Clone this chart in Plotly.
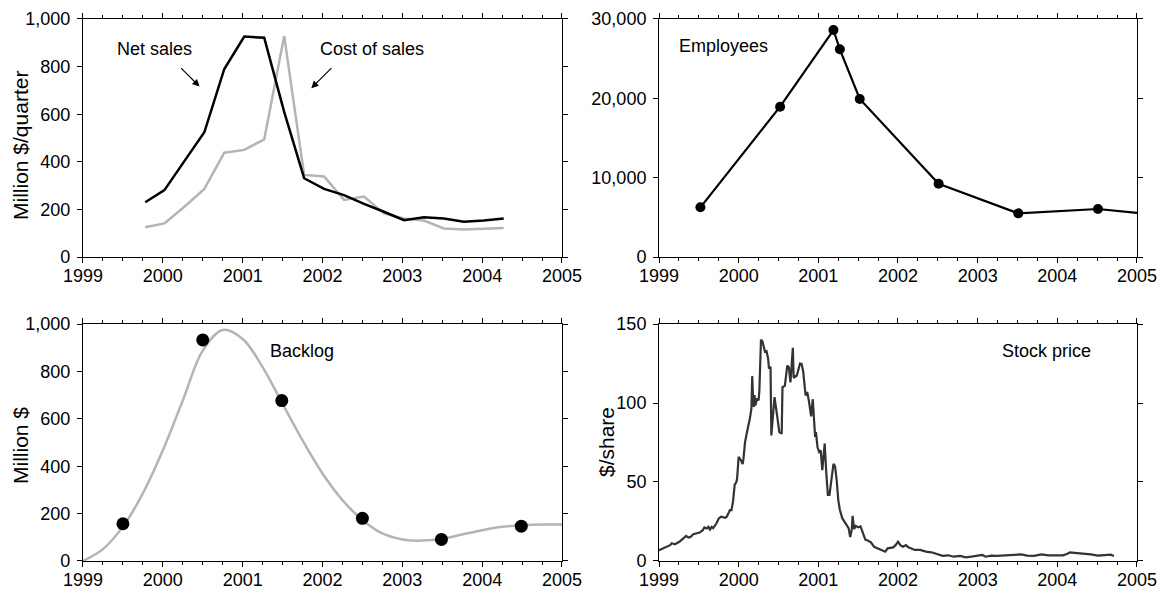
import plotly.graph_objects as go
from plotly.subplots import make_subplots

# quarterly sales, million $ per quarter
quarter_dates = [1999.78, 2000.02, 2000.27, 2000.52, 2000.77, 2001.02, 2001.27, 2001.52, 2001.77,
                 2002.02, 2002.27, 2002.52, 2002.77, 2003.02, 2003.27, 2003.52, 2003.77, 2004.02, 2004.27]
net_sales = [230, 281, 403, 524, 790, 926, 921, 610, 331,
             286, 260, 223, 190, 155, 167, 162, 148, 153, 162]
cost_of_sales = [125, 141, 211, 286, 438, 450, 494, 929, 345,
                 338, 240, 254, 183, 162, 153, 120, 116, 119, 122]

# head count (the last point runs past the right edge, so it has no dot)
employee_dates = [1999.52, 2000.52, 2001.19, 2001.27, 2001.52, 2002.51, 2003.51, 2004.51, 2005.0]
employees = [6260, 18950, 28610, 26180, 19920, 9240, 5500, 6050, 5570]

# backlog: reported points and the smooth curve through them
backlog_dates = [1999.5, 2000.5, 2001.49, 2002.5, 2003.49, 2004.49]
backlog = [157, 933, 677, 180, 91, 147]
curve_dates = [1999.0, 1999.25, 1999.5, 1999.75, 2000.0, 2000.25, 2000.5, 2000.75, 2001.0,
               2001.25, 2001.5, 2001.75, 2002.0, 2002.25, 2002.5, 2002.75, 2003.0, 2003.25,
               2003.5, 2003.75, 2004.0, 2004.25, 2004.5, 2004.75, 2005.0]
curve_backlog = [0, 50, 145, 285, 467, 677, 888, 975, 937,
                 818, 663, 509, 369, 257, 173, 116, 91, 86,
                 94, 112, 130, 144, 151, 154, 154]

# share price, $ per share
stock_dates = [1999.0, 1999.05, 1999.14, 1999.16, 1999.2, 1999.26, 1999.3, 1999.34, 1999.37, 1999.4,
               1999.43, 1999.47, 1999.51, 1999.55, 1999.57, 1999.6, 1999.62, 1999.64, 1999.66, 1999.68,
               1999.72, 1999.75, 1999.78, 1999.83, 1999.85, 1999.87, 1999.89, 1999.91, 1999.93, 1999.95,
               1999.97, 1999.98, 2000.0, 2000.03, 2000.05, 2000.06, 2000.08, 2000.1, 2000.12, 2000.14,
               2000.16, 2000.17, 2000.18, 2000.19, 2000.2, 2000.21, 2000.23, 2000.25, 2000.26, 2000.28,
               2000.3, 2000.31, 2000.33, 2000.35, 2000.37, 2000.38, 2000.4, 2000.41, 2000.45, 2000.48,
               2000.51, 2000.54, 2000.55, 2000.58, 2000.61, 2000.63, 2000.65, 2000.68, 2000.69, 2000.73,
               2000.77, 2000.79, 2000.81, 2000.84, 2000.86, 2000.88, 2000.9, 2000.91, 2000.93, 2000.96,
               2000.97, 2000.99, 2001.01, 2001.03, 2001.05, 2001.08, 2001.1, 2001.12, 2001.14, 2001.16,
               2001.19, 2001.21, 2001.23, 2001.25, 2001.27, 2001.3, 2001.33, 2001.35, 2001.38, 2001.4,
               2001.42, 2001.43, 2001.45, 2001.47, 2001.5, 2001.53, 2001.56, 2001.59, 2001.62, 2001.66,
               2001.7, 2001.75, 2001.81, 2001.84, 2001.87, 2001.91, 2001.94, 2001.97, 2002.0, 2002.03,
               2002.06, 2002.1, 2002.13, 2002.16, 2002.21, 2002.28, 2002.35, 2002.42, 2002.49, 2002.56,
               2002.63, 2002.7, 2002.78, 2002.85, 2002.92, 2002.99, 2003.06, 2003.1, 2003.17, 2003.24,
               2003.33, 2003.41, 2003.5, 2003.55, 2003.62, 2003.71, 2003.8, 2003.89, 2003.98, 2004.07,
               2004.12, 2004.16, 2004.25, 2004.35, 2004.42, 2004.51, 2004.6, 2004.67, 2004.71]
stock_price = [6.8, 8, 10, 11.2, 10.6, 12.3, 14, 15.9, 14.8, 15.3,
               17, 17.6, 18, 19.5, 21.2, 20.6, 21.6, 19.9, 21.6, 20.8,
               23.7, 26.9, 28, 27.3, 28, 30, 32.2, 32.2, 38, 48.3,
               49.8, 52, 66, 63.6, 61.4, 64.6, 75.2, 80.5, 84.7, 90,
               96.4, 117, 104, 97.5, 105, 98.5, 102.8, 101.7, 108, 140,
               138.8, 136, 132.4, 132.8, 128, 121.8, 123, 79.5, 103.7, 93,
               81.6, 80.6, 110, 111, 123.7, 122.7, 113, 135, 116, 117.4,
               125, 124.7, 120, 104.8, 107, 101.8, 92.2, 91.5, 102.4, 78.5,
               81.6, 72, 69, 70, 57.5, 74.4, 55.5, 41.9, 41.9, 51.4,
               61.5, 60, 51.4, 38.7, 32.4, 27.1, 25, 22.9, 20.8, 15.1,
               19.8, 28.6, 20.2, 22.3, 21.3, 21.9, 17.7, 13.5, 13, 11.8,
               9, 8, 6.5, 5.9, 8, 8.6, 8.6, 10, 12.2, 10,
               9, 10, 8.6, 8, 7, 7, 5.9, 5.5, 4.4, 3.2,
               3.6, 2.7, 3.2, 2.3, 2.7, 3.2, 3.8, 2.7, 3.4, 3.2,
               3.4, 3.6, 4, 4.2, 3.4, 3.2, 4.2, 3.6, 3.6, 3.6,
               4.4, 5.5, 5, 4.8, 4.2, 3.4, 3.6, 4, 3.2]

years = [1999, 2000, 2001, 2002, 2003, 2004, 2005]
FONT = "Liberation Sans, Arial, Helvetica, sans-serif"

fig = make_subplots(rows=2, cols=2)

fig.add_trace(go.Scatter(x=quarter_dates, y=cost_of_sales, mode="lines",
                         line=dict(color="#b4b4b4", width=2.5)), row=1, col=1)
fig.add_trace(go.Scatter(x=quarter_dates, y=net_sales, mode="lines",
                         line=dict(color="black", width=2.5)), row=1, col=1)

fig.add_trace(go.Scatter(x=employee_dates, y=employees, mode="lines",
                         line=dict(color="black", width=2.2)), row=1, col=2)
fig.add_trace(go.Scatter(x=employee_dates[:-1], y=employees[:-1], mode="markers",
                         marker=dict(color="black", size=10, opacity=1, line=dict(width=0))),
              row=1, col=2)

fig.add_trace(go.Scatter(x=curve_dates, y=curve_backlog, mode="lines", line_shape="spline",
                         line=dict(color="#b4b4b4", width=2.5)), row=2, col=1)
fig.add_trace(go.Scatter(x=backlog_dates, y=backlog, mode="markers",
                         marker=dict(color="black", size=13, line=dict(width=0))), row=2, col=1)

fig.add_trace(go.Scatter(x=stock_dates, y=stock_price, mode="lines",
                         line=dict(color="#333333", width=2.2)), row=2, col=2)

axis_style = dict(showline=True, linecolor="black", linewidth=1, mirror="allticks",
                  ticks="outside", ticklen=5, tickwidth=1, tickcolor="black",
                  showgrid=False, zeroline=False, automargin=False,
                  tickfont=dict(family=FONT, size=18, color="black"))

for r in (1, 2):
    for c in (1, 2):
        fig.update_xaxes(range=[1999, 2005], tickvals=years, ticktext=[str(y) for y in years],
                         minor=dict(dtick=0.25, tick0=1999, ticks="outside", ticklen=3,
                                    tickcolor="black", showgrid=False),
                         ticklabelstandoff=-3, row=r, col=c, **axis_style)

fig.update_yaxes(range=[0, 1000], dtick=200, tickformat=",", row=1, col=1, **axis_style)
fig.update_yaxes(range=[0, 30000], dtick=10000, tickformat=",", row=1, col=2, **axis_style)
fig.update_yaxes(range=[0, 1000], dtick=200, tickformat=",", row=2, col=1, **axis_style)
fig.update_yaxes(range=[0, 150], dtick=50, row=2, col=2, **axis_style)
fig.update_yaxes(ticklabelstandoff=3)

# place the four panels
fig.update_layout(
    xaxis=dict(domain=[0.0716, 0.4849]), yaxis=dict(domain=[0.5644, 0.9678]),
    xaxis2=dict(domain=[0.5686, 0.9810]), yaxis2=dict(domain=[0.5644, 0.9678]),
    xaxis3=dict(domain=[0.0716, 0.4849]), yaxis3=dict(domain=[0.0492, 0.4508]),
    xaxis4=dict(domain=[0.5686, 0.9810]), yaxis4=dict(domain=[0.0492, 0.4508]),
)

label_font = dict(family=FONT, size=18, color="black")
title_font = dict(family=FONT, size=21, color="black")
notes = [
    dict(x=1999.9, y=873, xref="x", yref="y", text="Net sales", showarrow=False),
    dict(x=2002.62, y=873, xref="x", yref="y", text="Cost of sales", showarrow=False),
    dict(x=2000.46, y=716, ax=2000.21, ay=800, xref="x", yref="y", axref="x", ayref="y",
         text="", showarrow=True, arrowhead=2, arrowsize=1.2, arrowwidth=1.2, arrowcolor="black"),
    dict(x=2001.86, y=709, ax=2002.13, ay=800, xref="x", yref="y", axref="x", ayref="y",
         text="", showarrow=True, arrowhead=2, arrowsize=1.2, arrowwidth=1.2, arrowcolor="black"),
    dict(x=1999.81, y=26600, xref="x2", yref="y2", text="Employees", showarrow=False),
    dict(x=2001.74, y=888, xref="x3", yref="y3", text="Backlog", showarrow=False),
    dict(x=2003.86, y=133, xref="x4", yref="y4", text="Stock price", showarrow=False),
]
for n in notes:
    n["font"] = label_font
    fig.add_annotation(**n)

# y-axis titles, placed by hand next to the tick labels
for text, px, py in [("Million $/quarter", 20, 146), ("Million $", 20, 446), ("$/share", 606, 442)]:
    fig.add_annotation(x=px / 1159, y=1 - py / 590, xref="paper", yref="paper",
                       text=text, textangle=-90, showarrow=False,
                       xanchor="center", yanchor="middle", font=title_font)

fig.update_layout(
    width=1159, height=590,
    margin=dict(l=0, r=0, t=0, b=0),
    paper_bgcolor="white", plot_bgcolor="white",
    showlegend=False,
    font=dict(family=FONT, color="black"),
)

# drop the default page margin so the figure sits at the window corner
fig.write_html("out.html", config={"displayModeBar": False},
               post_script="document.body.style.margin='0';")
